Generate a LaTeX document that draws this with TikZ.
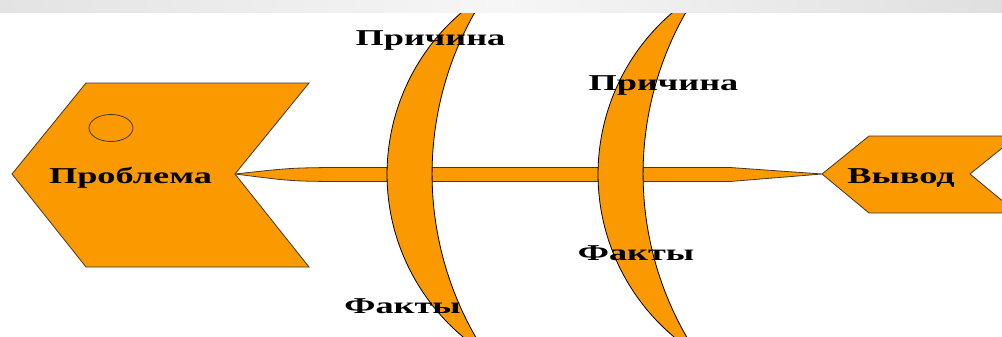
\documentclass[tikz,border=0pt]{standalone}
\usepackage{fontspec}
\setmainfont{Liberation Serif}
\definecolor{fishorange}{RGB}{250,153,0}
\definecolor{edgebrown}{RGB}{70,55,40}
\begin{document}
\begin{tikzpicture}[x=0.75pt,y=-0.75pt,
    part/.style={fill=fishorange, draw=edgebrown, line width=0.6pt},
    bone/.style={fill=fishorange, draw=black, line width=0.6pt},
    lbl/.style={font=\fontsize{17}{20}\selectfont\bfseries, xscale=1.6, inner sep=0pt, anchor=base}]
  \useasboundingbox (0,0) rectangle (1002,336);
  \clip (0,0) rectangle (1002,336);

  % Spine
  \coordinate (notch) at (235,174);
  \coordinate (tip) at (822,174);
  \draw[part] (notch) .. controls (290,168) .. (330,167.5) -- (730,167.5)
    -- (tip) -- (730,181.5)
    -- (330,181.5) .. controls (290,181) .. (notch) -- cycle;

  % Head
  \draw[part] (12,174) -- (86,83) -- (309,83) -- (notch) -- (309,267) -- (86,267) -- cycle;
  \draw[edgebrown, line width=0.6pt] (111,128) ellipse [x radius=22, y radius=13.5];

  % Tail
  \draw[part] (tip) -- (869,136) -- (1017,136) -- (970,174) -- (1017,213) -- (869,213) -- cycle;

  % Ribs
  \foreach \dx in {0,211}
    \draw[bone, shift={(\dx,0)}] (486,-5.5) arc[start angle=237.7, end angle=122.3, radius=212.5]
      arc[start angle=146.6, end angle=213.4, radius=326.6] -- cycle;

  % Top band
  \shade[left color=gray!22, right color=gray!25, middle color=gray!7] (0,0) rectangle (1002,12);

  % Labels
  \node[lbl] (cause1) at (430.5,45) {Причина};
  \node[lbl] (cause2) at (663.5,90) {Причина};
  \node[lbl] (facts1) at (402.5,313) {Факты};
  \node[lbl] (facts2) at (636,260) {Факты};
  \node[lbl] (problem) at (130.5,183) {Проблема};
  \node[lbl] (result) at (901,183) {Вывод};
\end{tikzpicture}
\end{document}
